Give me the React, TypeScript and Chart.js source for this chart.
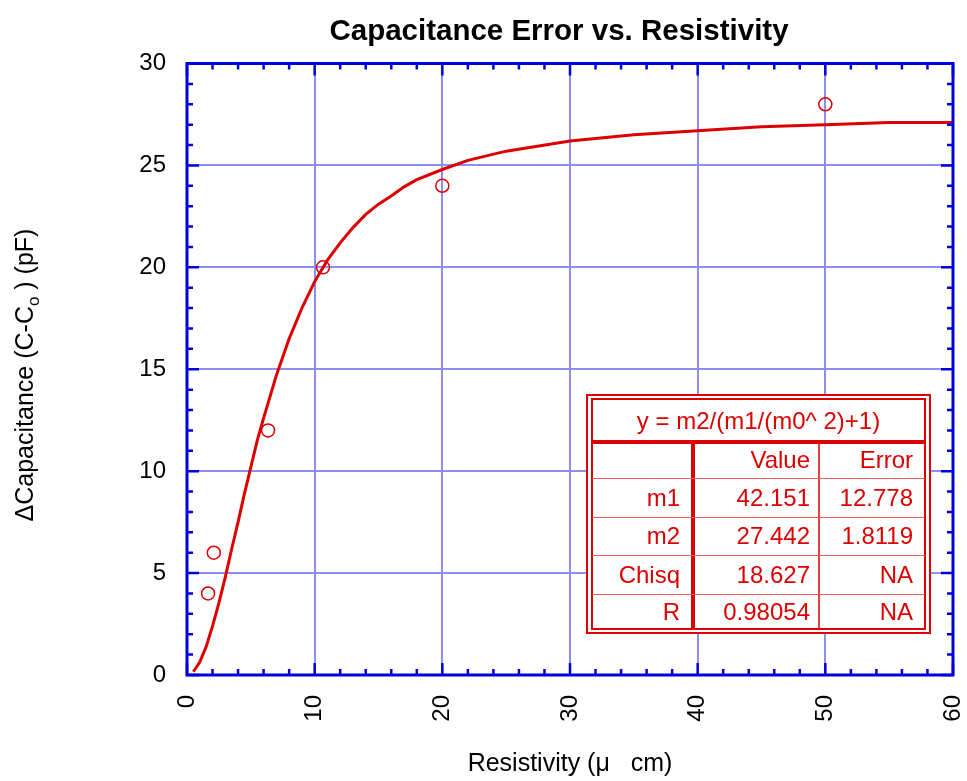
import React, { useEffect, useRef } from 'react';
import { Chart, registerables } from 'chart.js';

Chart.register(...registerables);

const FONT = 'Arial, "Liberation Sans", Helvetica, sans-serif';

// Fitted curve
const curveX = [0.5, 1, 1.5, 2, 2.5, 3, 3.5, 4, 4.5, 5, 5.5, 6, 7, 8, 9, 10, 11, 12, 13, 14, 15, 16, 17, 18, 20, 22, 25, 30, 35, 40, 45, 50, 55, 60];
const curveY = [0.16, 0.64, 1.39, 2.4, 3.54, 4.8, 6.18, 7.5, 8.9, 10.2, 11.5, 12.6, 14.7, 16.5, 18.0, 19.3, 20.35, 21.2, 21.95, 22.6, 23.1, 23.5, 23.95, 24.3, 24.8, 25.25, 25.7, 26.2, 26.5, 26.7, 26.9, 27.0, 27.1, 27.1];

// Measured points
const pointX = [1.65, 2.1, 6.35, 10.65, 20, 50];
const pointY = [4, 6, 12, 20, 24, 28];

// Axes
const xTicks = [0, 10, 20, 30, 40, 50, 60];
const yTicks = [0, 5, 10, 15, 20, 25, 30];
const xMinorStep = 2;
const yMinorStep = 1;

// Texts
const chartTitle = 'Capacitance Error vs. Resistivity';
const xTitle = 'Resistivity (\u03bc   cm)';
const yTitleMain = '\u0394Capacitance (C-C';
const yTitleSub = 'o';
const yTitleEnd = ' ) (pF)';

// Fit table
const fitEquation = 'y = m2/(m1/(m0^ 2)+1)';
const fitHeader = ['', 'Value', 'Error'];
const fitNames = ['m1', 'm2', 'Chisq', 'R'];
const fitValues = ['42.151', '27.442', '18.627', '0.98054'];
const fitErrors = ['12.778', '1.8119', 'NA', 'NA'];

const RED = '#dd0000';
const BLUE = '#0000dd';
const GRID = '#8e8ef0';

const decorPlugin = {
  id: 'decor',
  afterDraw(chart: any) {
    const ctx = chart.ctx;
    const ca = chart.chartArea;
    const xs = chart.scales.x;
    const ys = chart.scales.y;
    ctx.save();

    // inward ticks
    ctx.strokeStyle = BLUE;
    ctx.lineWidth = 2.5;
    ctx.beginPath();
    for (let v = xTicks[0]; v <= xTicks[xTicks.length - 1] + 1e-9; v += xMinorStep) {
      const px = xs.getPixelForValue(v);
      const len = xTicks.includes(v) ? 12 : 6;
      ctx.moveTo(px, ca.bottom);
      ctx.lineTo(px, ca.bottom - len);
      ctx.moveTo(px, ca.top);
      ctx.lineTo(px, ca.top + len);
    }
    for (let v = yTicks[0]; v <= yTicks[yTicks.length - 1] + 1e-9; v += yMinorStep) {
      const py = ys.getPixelForValue(v);
      const len = yTicks.includes(v) ? 12 : 6;
      ctx.moveTo(ca.left, py);
      ctx.lineTo(ca.left + len, py);
      ctx.moveTo(ca.right, py);
      ctx.lineTo(ca.right - len, py);
    }
    ctx.stroke();

    // frame
    ctx.lineWidth = 3;
    ctx.strokeRect(ca.left, ca.top, ca.right - ca.left, ca.bottom - ca.top);

    // title
    ctx.fillStyle = '#000';
    ctx.font = `bold 29.5px ${FONT}`;
    ctx.textAlign = 'center';
    ctx.textBaseline = 'alphabetic';
    ctx.fillText(chartTitle, 559, 40);

    // y title with subscript
    ctx.save();
    ctx.translate(33, 375);
    ctx.rotate(-Math.PI / 2);
    ctx.textAlign = 'left';
    ctx.font = `25px ${FONT}`;
    const w1 = ctx.measureText(yTitleMain).width;
    const w3 = ctx.measureText(yTitleEnd).width;
    ctx.font = `17px ${FONT}`;
    const w2 = ctx.measureText(yTitleSub).width;
    let sx = -(w1 + w2 + w3) / 2;
    ctx.font = `25px ${FONT}`;
    ctx.fillText(yTitleMain, sx, 0);
    sx += w1;
    ctx.font = `17px ${FONT}`;
    ctx.fillText(yTitleSub, sx, 6);
    sx += w2;
    ctx.font = `25px ${FONT}`;
    ctx.fillText(yTitleEnd, sx, 0);
    ctx.restore();

    // fit table
    const oL = 587, oR = 930, oT = 395, oB = 633;
    const iL = 592, iR = 925, iT = 399, iB = 629;
    const headSep = 442;
    const col1 = 693, col2 = 819;
    const rowLines = [478, 517, 555, 594];
    ctx.fillStyle = '#ffffff';
    ctx.fillRect(oL, oT, oR - oL, oB - oT);
    ctx.strokeStyle = RED;
    ctx.lineWidth = 2;
    ctx.strokeRect(oL, oT, oR - oL, oB - oT);
    ctx.strokeRect(iL, iT, iR - iL, iB - iT);
    ctx.lineWidth = 4;
    ctx.beginPath();
    ctx.moveTo(iL, headSep);
    ctx.lineTo(iR, headSep);
    ctx.moveTo(col1, headSep);
    ctx.lineTo(col1, iB);
    ctx.stroke();
    ctx.lineWidth = 1.5;
    ctx.beginPath();
    ctx.moveTo(col2, headSep);
    ctx.lineTo(col2, iB);
    ctx.stroke();
    ctx.strokeStyle = '#ee6060';
    ctx.lineWidth = 1;
    ctx.beginPath();
    rowLines.forEach((y) => {
      ctx.moveTo(iL, y + 0.5);
      ctx.lineTo(iR, y + 0.5);
    });
    ctx.stroke();

    ctx.fillStyle = RED;
    ctx.font = `24px ${FONT}`;
    ctx.textBaseline = 'middle';
    ctx.textAlign = 'center';
    ctx.fillText(fitEquation, (iL + iR) / 2, 422);
    const rowCenters = [461, 499, 537, 576, 613];
    const colRight = [680, 810, 913];
    ctx.textAlign = 'right';
    fitHeader.forEach((t, i) => ctx.fillText(t, colRight[i], rowCenters[0]));
    fitNames.forEach((n, r) => {
      ctx.fillText(n, colRight[0], rowCenters[r + 1]);
      ctx.fillText(fitValues[r], colRight[1], rowCenters[r + 1]);
      ctx.fillText(fitErrors[r], colRight[2], rowCenters[r + 1]);
    });

    ctx.restore();
  },
};

export default function App() {
  const ref = useRef<HTMLCanvasElement | null>(null);
  useEffect(() => {
    if (!ref.current) return;
    Chart.defaults.font.family = FONT;
    const chart = new Chart(ref.current, {
      type: 'scatter',
      data: {
        datasets: [
          {
            label: 'fit',
            data: curveX.map((x, i) => ({ x, y: curveY[i] })),
            showLine: true,
            borderColor: RED,
            borderWidth: 3,
            pointRadius: 0,
            tension: 0,
          },
          {
            label: 'data',
            data: pointX.map((x, i) => ({ x, y: pointY[i] })),
            showLine: false,
            borderColor: RED,
            backgroundColor: 'rgba(0,0,0,0)',
            borderWidth: 1.5,
            pointRadius: 6.5,
            pointStyle: 'circle',
          },
        ],
      },
      options: {
        responsive: false,
        animation: false,
        layout: { padding: { top: 63.5, right: 14, left: 0, bottom: 0 } },
        plugins: {
          legend: { display: false },
          title: { display: false },
          tooltip: { enabled: false },
        },
        scales: {
          x: {
            type: 'linear',
            min: xTicks[0],
            max: xTicks[xTicks.length - 1],
            afterBuildTicks: (s: any) => {
              s.ticks = xTicks.map((v) => ({ value: v }));
            },
            afterFit: (s: any) => {
              s.height = 106;
              s.paddingLeft = 0;
              s.paddingRight = 0;
            },
            ticks: {
              minRotation: 90,
              maxRotation: 90,
              padding: 20,
              color: '#000',
              font: { size: 24, family: FONT },
            },
            grid: { color: GRID, lineWidth: 2, drawTicks: false },
            border: { display: false },
            title: {
              display: true,
              text: xTitle,
              color: '#000',
              font: { size: 25, family: FONT },
              padding: { top: 0, bottom: 2 },
            },
          },
          y: {
            type: 'linear',
            min: yTicks[0],
            max: yTicks[yTicks.length - 1],
            afterBuildTicks: (s: any) => {
              s.ticks = yTicks.map((v) => ({ value: v }));
            },
            afterFit: (s: any) => {
              s.width = 187;
              s.paddingTop = 0;
              s.paddingBottom = 0;
            },
            ticks: {
              padding: 21,
              color: '#000',
              font: { size: 24, family: FONT },
            },
            grid: { color: GRID, lineWidth: 2, drawTicks: false },
            border: { display: false },
          },
        },
      },
      plugins: [decorPlugin],
    } as any);
    return () => chart.destroy();
  }, []);
  return (
    <div style={{ position: 'fixed', left: 0, top: 0, width: 967, height: 781, background: '#fff' }}>
      <canvas ref={ref} width={967} height={781} style={{ display: 'block' }} />
    </div>
  );
}
